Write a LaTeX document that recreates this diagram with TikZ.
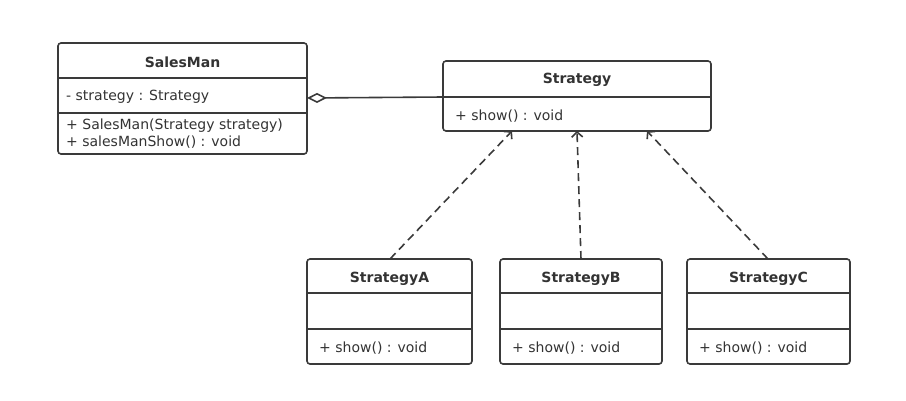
\documentclass[tikz,border=0pt]{standalone}
\usepackage{fontspec}
\setmainfont{DejaVu Sans}
\usetikzlibrary{arrows.meta}
\definecolor{ln}{HTML}{3A3A3A}
\definecolor{tx}{HTML}{333333}
\tikzset{
  classbox/.style={draw=ln, line width=1.6pt, rounded corners=3pt, fill=white, inner sep=0pt},
  divider/.style={draw=ln, line width=1.6pt},
  title/.style={font=\fontsize{14}{16}\selectfont\bfseries, text=tx, inner sep=0pt},
  member/.style={font=\fontsize{14}{16}\selectfont, text=tx, inner sep=0pt, anchor=west},
  realize/.style={draw=ln, line width=1.6pt, dash pattern=on 8pt off 5pt, -{Straight Barb[length=5pt,width=11pt,line width=1.6pt]}},
  aggr/.style={draw=ln, line width=1.6pt, {Diamond[open,length=20pt,width=10pt,line width=1.6pt]}-}
}
\begin{document}
\begin{tikzpicture}[x=1pt,y=-1pt]
\useasboundingbox (0,0) rectangle (906,400);
% SalesMan
\node[classbox, minimum width=249pt, minimum height=111pt] (sm) at (182.5,98.5) {};
\coordinate (smd1l) at (58,78); \coordinate (smd1r) at (307,78);
\coordinate (smd2l) at (58,113); \coordinate (smd2r) at (307,113);
\draw[divider] (smd1l) -- (smd1r);
\draw[divider] (smd2l) -- (smd2r);
\node[title] (smt) at (182.5,62) {SalesMan};
\node[member] (sma) at (66,97) {- strategy : Strategy};
\node[member] (smm1) at (66,125.5) {+ SalesMan(Strategy strategy)};
\node[member] (smm2) at (66,142.5) {+ salesManShow() : void};
% Strategy
\node[classbox, minimum width=268pt, minimum height=70pt] (st) at (577,96) {};
\coordinate (std1l) at (443,97); \coordinate (std1r) at (711,97);
\draw[divider] (std1l) -- (std1r);
\node[title] (stt) at (577,80) {Strategy};
\node[member] (stm) at (455,116) {+ show() : void};
% Concrete strategies
\foreach \n/\l/\r/\lab in {a/307/472/StrategyA, b/500/662/StrategyB, c/687/850/StrategyC}{
  \pgfmathsetmacro{\w}{\r-\l}
  \pgfmathsetmacro{\cx}{(\r+\l)/2}
  \node[classbox, minimum width=\w pt, minimum height=105pt] (s\n) at (\cx,311.5) {};
  \coordinate (s\n d1l) at (\l,293); \coordinate (s\n d1r) at (\r,293);
  \coordinate (s\n d2l) at (\l,329); \coordinate (s\n d2r) at (\r,329);
  \draw[divider] (s\n d1l) -- (s\n d1r);
  \draw[divider] (s\n d2l) -- (s\n d2r);
  \node[title] (s\n t) at (\cx,279) {\lab};
  \node[member] (s\n m) at (\l+12,348) {+ show() : void};
}
% Connectors
\coordinate (aggL) at (307,98);
\coordinate (aggR) at (443,97);
\draw[aggr] (aggL) -- (aggR);
\coordinate (aT) at (390,259); \coordinate (aH) at (512,131);
\coordinate (bT) at (581,259); \coordinate (bH) at (577,131);
\coordinate (cT) at (768,259); \coordinate (cH) at (647,131);
\draw[realize] (aT) -- (aH);
\draw[realize] (bT) -- (bH);
\draw[realize] (cT) -- (cH);
\end{tikzpicture}
\end{document}
